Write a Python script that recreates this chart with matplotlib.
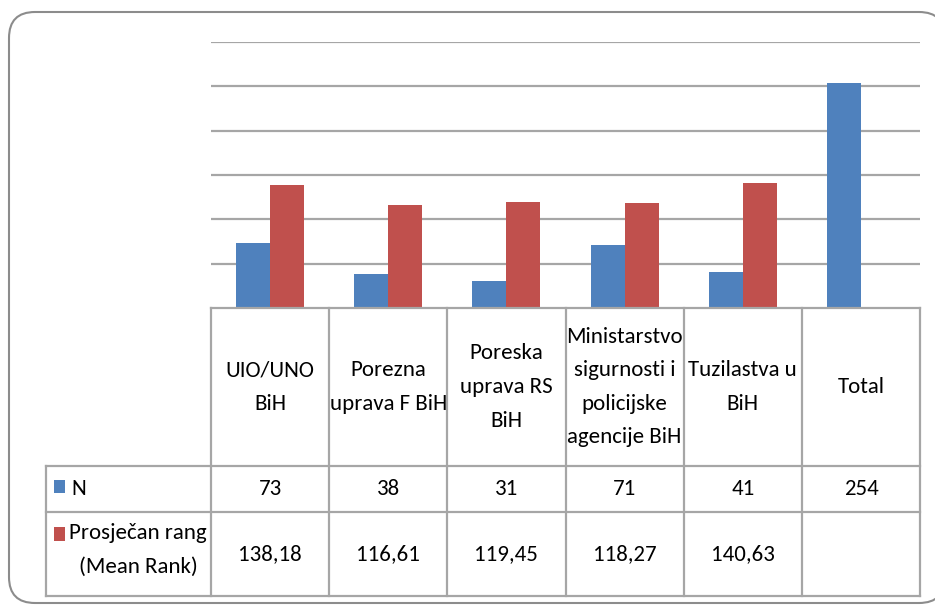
import matplotlib
matplotlib.use("Agg")
import matplotlib.pyplot as plt
from matplotlib import transforms
from matplotlib.patches import FancyBboxPatch, Rectangle

categories = ["UIO/UNO\nBiH", "Porezna\nuprava F BiH", "Poreska\nuprava RS\nBiH",
              "Ministarstvo\nsigurnosti i\npolicijske\nagencije BiH", "Tuzilastva u\nBiH", "Total"]
n_values = [73, 38, 31, 71, 41, 254]
rank_values = [138.18, 116.61, 119.45, 118.27, 140.63, None]
series_names = ["N", "Prosječan rang\n(Mean Rank)"]
n_labels = ["73", "38", "31", "71", "41", "254"]
rank_labels = ["138,18", "116,61", "119,45", "118,27", "140,63", ""]

BLUE = "#4F81BD"
RED = "#C0504D"
GRID = "#A6A6A6"

plt.rcParams["font.family"] = ["Carlito", "DejaVu Sans"]

W, H = 935, 605
fig = plt.figure(figsize=(W / 100, H / 100), dpi=100)

def fx(px):
    return px / W

def fy(py):
    return 1 - py / H

# background axes in pixel coordinates for the rounded frame
bg = fig.add_axes([0, 0, 1, 1], zorder=-5)
bg.set_xlim(0, W)
bg.set_ylim(H, 0)
bg.axis("off")
bg.add_patch(FancyBboxPatch((9, 12), 945 - 9, 603 - 12,
                            boxstyle="round,pad=0,rounding_size=26",
                            facecolor="white", edgecolor="#8C8C8C", linewidth=1.5))

left, right, top, base = 211, 920, 42, 308
ax = fig.add_axes([fx(left), fy(base), fx(right) - fx(left), fy(top) - fy(base)], zorder=1)
ax.set_facecolor("none")
x = list(range(len(categories)))
bw = 0.288
ax.bar([i - bw / 2 for i in x], n_values, width=bw, color=BLUE, zorder=3)
rx = [i + bw / 2 for i, v in zip(x, rank_values) if v is not None]
rv = [v for v in rank_values if v is not None]
ax.bar(rx, rv, width=bw, color=RED, zorder=3)
ax.set_xlim(-0.5, len(categories) - 0.5)
ax.set_ylim(0, 300)
for yv in range(50, 301, 50):
    ax.axhline(yv, color=GRID, linewidth=1.6, zorder=1)
for s in ax.spines.values():
    s.set_visible(False)
ax.set_xticks([])
ax.set_yticks([])

# data table below the axis
tr = transforms.blended_transform_factory(ax.transData, fig.transFigure)
row_h = 308, 466, 512, 596
lc = dict(color=GRID, linewidth=1.6, zorder=4, clip_on=False)
edges = [i - 0.5 for i in range(len(categories) + 1)]
fig.add_artist(plt.Line2D([edges[0], edges[-1]], [fy(row_h[0])] * 2, transform=tr, **lc))
for yy in row_h[1:]:
    fig.add_artist(plt.Line2D([fx(46), fx(right)], [fy(yy)] * 2, transform=fig.transFigure, **lc))
for e in edges:
    fig.add_artist(plt.Line2D([e, e], [fy(row_h[0]), fy(row_h[3])], transform=tr, **lc))
fig.add_artist(plt.Line2D([fx(46), fx(46)], [fy(row_h[1]), fy(row_h[3])], transform=fig.transFigure, **lc))

fs = 16.5
ls = 1.85
for i, cat in enumerate(categories):
    fig.text(i, fy((row_h[0] + row_h[1]) / 2), cat, transform=tr, ha="center", va="center",
             fontsize=fs, linespacing=ls, color="black")
    fig.text(i, fy((row_h[1] + row_h[2]) / 2), n_labels[i], transform=tr, ha="center",
             va="center", fontsize=fs)
    fig.text(i, fy((row_h[2] + row_h[3]) / 2), rank_labels[i], transform=tr, ha="center",
             va="center", fontsize=fs)

# legend keys in table
fig.add_artist(Rectangle((fx(54), fy(493)), fx(11), fy(480) - fy(493), transform=fig.transFigure,
                         facecolor=BLUE, edgecolor="none"))
fig.text(fx(71), fy(489), series_names[0], ha="left", va="center", fontsize=fs)
fig.add_artist(Rectangle((fx(54), fy(541)), fx(11), fy(527) - fy(541), transform=fig.transFigure,
                         facecolor=RED, edgecolor="none"))
fig.text(fx(138), fy(550), series_names[1], ha="center", va="center", fontsize=fs,
         multialignment="center", linespacing=ls)

fig.savefig("out.png", dpi=100)
